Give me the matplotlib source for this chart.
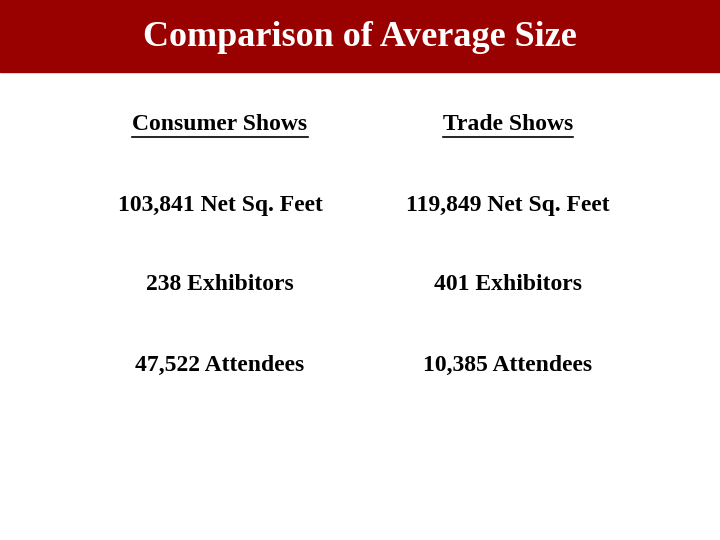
import matplotlib.pyplot as plt
from matplotlib.patches import Rectangle

title = 'Comparison of Average Size'
headers = ['Consumer Shows', 'Trade Shows']
consumer = ['103,841 Net Sq. Feet', '238 Exhibitors', '47,522 Attendees']
trade = ['119,849 Net Sq. Feet', '401 Exhibitors', '10,385 Attendees']

plt.rcParams['font.family'] = ['Liberation Serif', 'DejaVu Serif']

fig = plt.figure(figsize=(7.2, 5.4), dpi=100)
ax = fig.add_axes([0, 0, 1, 1])
ax.set_xlim(0, 720)
ax.set_ylim(540, 0)
ax.axis('off')

ax.add_patch(Rectangle((0, 0), 720, 72, color='#990000'))
ax.text(360, 38, title, color='white', fontsize=26, fontweight='bold',
        ha='center', va='center')

cols = [220, 508]
for x, h in zip(cols, headers):
    t = ax.text(x, 125, h, fontsize=17, fontweight='bold', ha='center', va='center')
    # underline
    fig.canvas.draw()
    bb = t.get_window_extent()
    ax.plot([bb.x0, bb.x1], [137, 137], color='black', lw=1.2)

rows_y = [205, 285, 365]
for y, c, t in zip(rows_y, consumer, trade):
    ax.text(cols[0], y, c, fontsize=17, fontweight='bold', ha='center', va='center')
    ax.text(cols[1], y, t, fontsize=17, fontweight='bold', ha='center', va='center')

fig.savefig('out.png', dpi=100)
